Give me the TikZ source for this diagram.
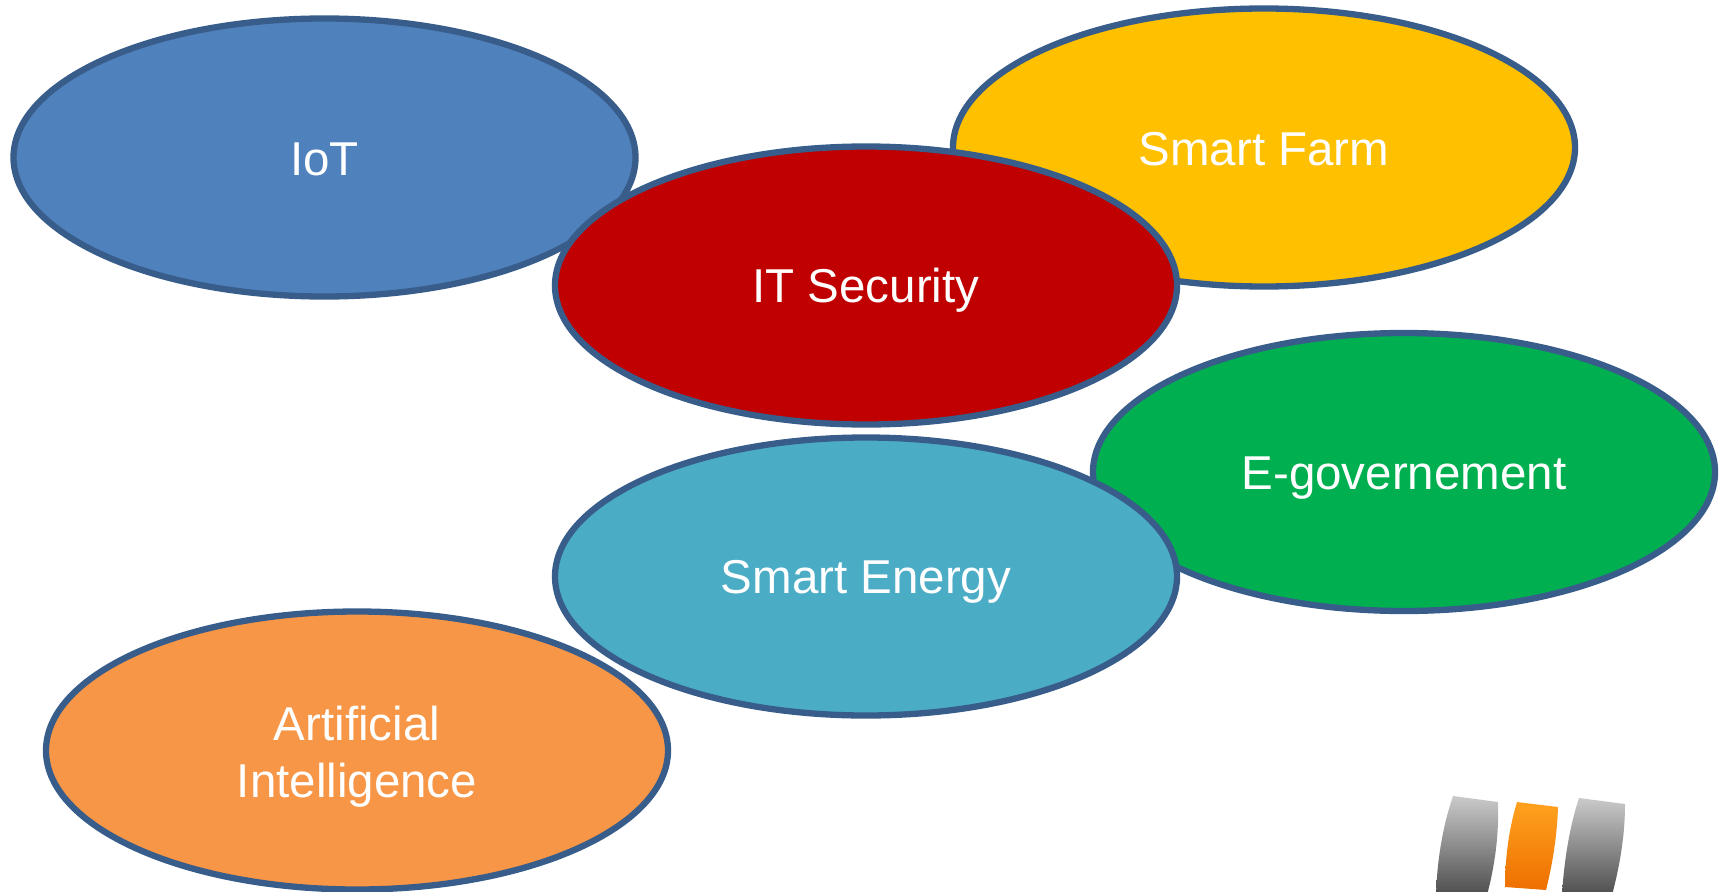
\documentclass[tikz,border=0pt]{standalone}
\usepackage{fontspec}
\setmainfont{Liberation Sans}
\usetikzlibrary{shapes.geometric}
\definecolor{edgeblue}{HTML}{385D8A}
\definecolor{cIoT}{HTML}{4F81BD}
\definecolor{cFarm}{HTML}{FFC000}
\definecolor{cSec}{HTML}{C00000}
\definecolor{cGov}{HTML}{00B050}
\definecolor{cEnergy}{HTML}{4BACC6}
\definecolor{cAI}{HTML}{F79646}
\definecolor{greytop}{HTML}{CACACA}
\definecolor{greybot}{HTML}{4E4E4E}
\definecolor{orgtop}{HTML}{FFA21F}
\definecolor{orgbot}{HTML}{EE6F00}
\newcommand\lowtxt[2]{\raisebox{-#1pt}[0pt][0pt]{#2}}
\tikzset{
  topic/.style={ellipse,draw=edgeblue,line width=6.3pt,outer sep=0pt,minimum width=622pt,minimum height=278pt,
    inner sep=0pt,text=white,align=center,font=\fontsize{47.5}{57}\selectfont},
  greybar/.style={top color=greytop,bottom color=greybot,draw=none},
  orangebar/.style={top color=orgtop,bottom color=orgbot,draw=none}
}
\begin{document}
\begin{tikzpicture}[x=1pt,y=-1pt]
\useasboundingbox (0,0) rectangle (1723,891);
\node[topic,fill=cIoT] (iot) at (324.5,157.5) {\lowtxt{18.2}{IoT}};
\node[topic,fill=cFarm] (farm) at (1264,147.5) {\lowtxt{18.2}{Smart Farm}};
\node[topic,fill=cSec] (sec) at (866,285.5) {\lowtxt{16.5}{IT Security}};
\node[topic,fill=cGov] (gov) at (1404,472) {\lowtxt{17}{E-governement}};
\node[topic,fill=cAI] (ai) at (357,750.5) {\lowtxt{18}{Artificial}\\\lowtxt{18}{Intelligence}};
\node[topic,fill=cEnergy] (energy) at (866,576.5) {\lowtxt{16.5}{Smart Energy}};
\begin{scope}
\clip (0,0) rectangle (1723,891);
\path[greybar] (1453,796) -- (1498,802) .. controls (1499,835) and (1495,865) .. (1487,895)
  -- (1436,895) .. controls (1437,860) and (1443,825) .. (1453,796) -- cycle;
\path[orangebar] (1517,802) -- (1558,807) .. controls (1557,835) and (1553,862) .. (1546,890)
  -- (1505,887) .. controls (1505,858) and (1509,828) .. (1517,802) -- cycle;
\path[greybar] (1579,798) -- (1625,804) .. controls (1625,835) and (1620,865) .. (1612,895)
  -- (1562,895) .. controls (1564,860) and (1570,825) .. (1579,798) -- cycle;
\end{scope}
\end{tikzpicture}
\end{document}
